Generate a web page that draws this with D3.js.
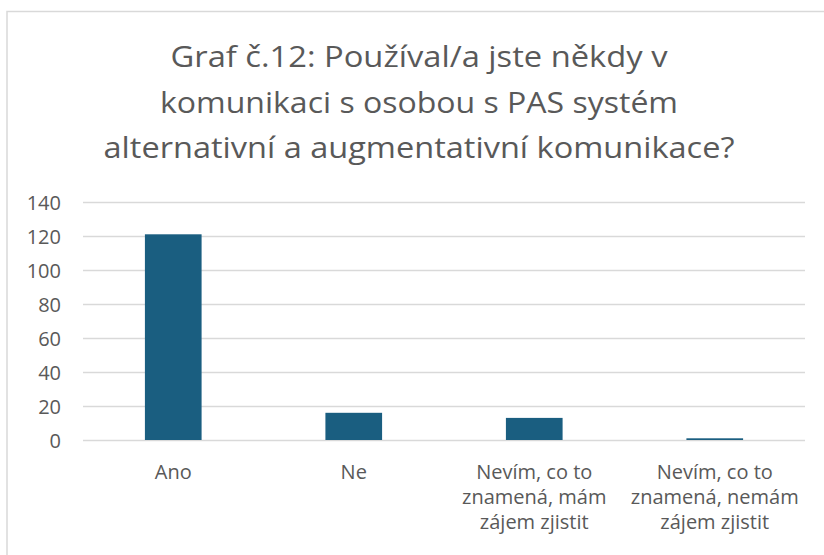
<!DOCTYPE html>
<html><head><meta charset="utf-8">
<script src="https://cdn.jsdelivr.net/npm/d3@7"></script>
<style>body{margin:0;background:#fff}svg{display:block}</style>
</head><body>
<svg id="c" width="824" height="555"></svg>
<script>
const categories = [["Ano"],["Ne"],["Nevím, co to","znamená, mám","zájem zjistit"],["Nevím, co to","znamená, nemám","zájem zjistit"]];
const values = [121, 16, 13, 1];
const yTicks = [0,20,40,60,80,100,120,140];
const titleLines = ["Graf č.12: Používal/a jste někdy v","komunikaci s osobou s PAS systém","alternativní a augmentativní komunikace?"];

const svg = d3.select("#c");
const font = "Open Sans, Lato, sans-serif";
// chart border
svg.append("rect").attr("x",7).attr("y",11.5).attr("width",830).attr("height",560)
  .attr("fill","#fff").attr("stroke","#d9d9d9").attr("stroke-width",1.5);

const x = d3.scaleBand().domain(d3.range(values.length)).range([83,805]).paddingInner(0.686).paddingOuter(0.343);
const y = d3.scaleLinear().domain([0,140]).range([440,202]);

// title
const tw = [497, 518, 631];
svg.append("g").selectAll("text").data(titleLines).join("text")
  .attr("x",419).attr("y",(d,i)=>67+i*45.5).attr("text-anchor","middle")
  .attr("font-family",font).attr("font-size",30).attr("fill","#595959")
  .attr("textLength",(d,i)=>tw[i]).attr("lengthAdjust","spacingAndGlyphs")
  .text(d=>d);

// gridlines
svg.append("g").selectAll("line").data(yTicks).join("line")
  .attr("x1",83).attr("x2",805).attr("y1",d=>Math.round(y(d))+0.5).attr("y2",d=>Math.round(y(d))+0.5)
  .attr("stroke","#d9d9d9").attr("stroke-width",1.5);

// y axis labels
const yAxis = d3.axisLeft(y).tickValues(yTicks).tickSize(0).tickPadding(0);
const ga = svg.append("g").attr("transform","translate(61,0)").call(yAxis);
ga.select(".domain").remove();
ga.selectAll("text").attr("font-family",font).attr("font-size",20).attr("fill","#595959").attr("dy","0.35em");

// bars
svg.append("g").selectAll("rect").data(values).join("rect")
  .attr("x",(d,i)=>x(i)).attr("width",x.bandwidth())
  .attr("y",d=>y(d)).attr("height",d=>y(0)-y(d))
  .attr("fill","#1a5e80");

// category labels
const cg = svg.append("g").selectAll("text").data(categories).join("text")
  .attr("text-anchor","middle").attr("font-family",font).attr("font-size",20).attr("fill","#595959");
cg.each(function(lines,i){
  d3.select(this).selectAll("tspan").data(lines).join("tspan")
    .attr("x",x(i)+x.bandwidth()/2).attr("y",(d,j)=>479+j*25).text(d=>d);
});
</script>
</body></html>
